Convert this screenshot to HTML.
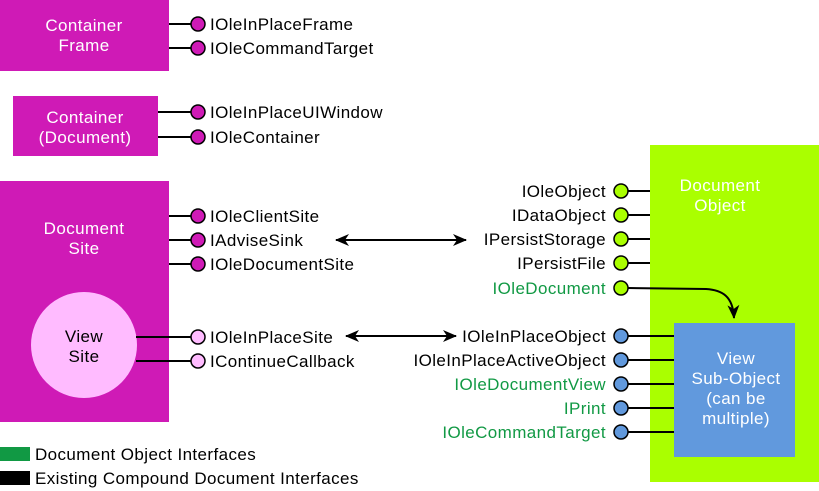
<!DOCTYPE html>
<html><head><meta charset="utf-8"><style>
body{margin:0;background:#fff}
svg{display:block}
text{font-family:"Liberation Sans",Arial,sans-serif;font-size:17px;letter-spacing:0.4px}
</style></head><body>
<svg width="819" height="491" viewBox="0 0 819 491" xmlns="http://www.w3.org/2000/svg">
<defs>
<marker id="ah" markerWidth="14" markerHeight="12" refX="13" refY="6" orient="auto" markerUnits="userSpaceOnUse"><path d="M0,0 L14,6 L0,12 L4,6 Z" fill="#000"/></marker>
<marker id="as" markerWidth="14" markerHeight="12" refX="1" refY="6" orient="auto" markerUnits="userSpaceOnUse"><path d="M14,0 L0,6 L14,12 L10,6 Z" fill="#000"/></marker>
</defs>
<rect x="0" y="0" width="169" height="71" fill="#cf1ab6"/>
<text x="84" y="31" fill="#fff" text-anchor="middle">Container</text>
<text x="84" y="51" fill="#fff" text-anchor="middle">Frame</text>
<rect x="13" y="96" width="145" height="60" fill="#cf1ab6"/>
<text x="85" y="123" fill="#fff" text-anchor="middle">Container</text>
<text x="85" y="143" fill="#fff" text-anchor="middle">(Document)</text>
<rect x="0" y="181" width="169" height="241" fill="#cf1ab6"/>
<text x="84" y="234" fill="#fff" text-anchor="middle">Document</text>
<text x="84" y="254" fill="#fff" text-anchor="middle">Site</text>
<circle cx="84" cy="345" r="53" fill="#ffbbff"/>
<text x="84" y="342" fill="#000" text-anchor="middle">View</text>
<text x="84" y="362" fill="#000" text-anchor="middle">Site</text>
<g stroke="#000" stroke-width="2">
<line x1="169" y1="24" x2="191" y2="24"/><line x1="169" y1="48" x2="191" y2="48"/>
<line x1="158" y1="112" x2="191" y2="112"/><line x1="158" y1="137" x2="191" y2="137"/>
<line x1="169" y1="216" x2="191" y2="216"/><line x1="169" y1="240" x2="191" y2="240"/><line x1="169" y1="264" x2="191" y2="264"/>
<line x1="136" y1="337" x2="191" y2="337"/><line x1="136" y1="361" x2="191" y2="361"/>
</g>
<g stroke="#000" stroke-width="1.5" fill="#cf1ab6">
<circle cx="198" cy="24" r="7"/><circle cx="198" cy="48" r="7"/>
<circle cx="198" cy="112" r="7"/><circle cx="198" cy="137" r="7"/>
<circle cx="198" cy="216" r="7"/><circle cx="198" cy="240" r="7"/><circle cx="198" cy="264" r="7"/>
<circle cx="198" cy="337" r="7" fill="#ffbbff"/><circle cx="198" cy="361" r="7" fill="#ffbbff"/>
</g>
<g fill="#000">
<text x="210" y="30">IOleInPlaceFrame</text>
<text x="210" y="54">IOleCommandTarget</text>
<text x="210" y="118">IOleInPlaceUIWindow</text>
<text x="210" y="143">IOleContainer</text>
<text x="210" y="222">IOleClientSite</text>
<text x="210" y="246">IAdviseSink</text>
<text x="210" y="270">IOleDocumentSite</text>
<text x="210" y="343">IOleInPlaceSite</text>
<text x="210" y="367">IContinueCallback</text>
</g>
<line x1="336" y1="240" x2="466" y2="240" stroke="#000" stroke-width="2" marker-start="url(#as)" marker-end="url(#ah)"/>
<line x1="346" y1="336" x2="456" y2="336" stroke="#000" stroke-width="2" marker-start="url(#as)" marker-end="url(#ah)"/>
<rect x="650" y="145" width="169" height="337" fill="#aaff00"/>
<text x="720" y="191" fill="#fff" text-anchor="middle">Document</text>
<text x="720" y="211" fill="#fff" text-anchor="middle">Object</text>
<rect x="674" y="323" width="121" height="134" fill="#6199dd"/>
<text x="736" y="364" fill="#fff" text-anchor="middle">View</text>
<text x="736" y="384" fill="#fff" text-anchor="middle">Sub-Object</text>
<text x="736" y="404" fill="#fff" text-anchor="middle">(can be</text>
<text x="736" y="424" fill="#fff" text-anchor="middle">multiple)</text>
<g stroke="#000" stroke-width="2" fill="none">
<line x1="628" y1="191" x2="650" y2="191"/><line x1="628" y1="215" x2="650" y2="215"/><line x1="628" y1="239" x2="650" y2="239"/><line x1="628" y1="263" x2="650" y2="263"/>
<path d="M628,288 L706,289 C722,290 733,296 734,318" marker-end="url(#ah)"/>
<line x1="628" y1="336" x2="674" y2="336"/><line x1="628" y1="360" x2="674" y2="360"/><line x1="628" y1="384" x2="674" y2="384"/><line x1="628" y1="408" x2="674" y2="408"/><line x1="628" y1="432" x2="674" y2="432"/>
</g>
<g stroke="#000" stroke-width="1.5" fill="#aaff00">
<circle cx="621" cy="191" r="7"/><circle cx="621" cy="215" r="7"/><circle cx="621" cy="239" r="7"/><circle cx="621" cy="263" r="7"/><circle cx="621" cy="288" r="7"/>
<g fill="#6199dd"><circle cx="621" cy="336" r="7"/><circle cx="621" cy="360" r="7"/><circle cx="621" cy="384" r="7"/><circle cx="621" cy="408" r="7"/><circle cx="621" cy="432" r="7"/></g>
</g>
<g text-anchor="end" fill="#000">
<text x="606" y="197">IOleObject</text>
<text x="606" y="221">IDataObject</text>
<text x="606" y="245">IPersistStorage</text>
<text x="606" y="269">IPersistFile</text>
<text x="606" y="294" fill="#119944">IOleDocument</text>
<text x="606" y="342">IOleInPlaceObject</text>
<text x="606" y="366">IOleInPlaceActiveObject</text>
<text x="606" y="390" fill="#119944">IOleDocumentView</text>
<text x="606" y="414" fill="#119944">IPrint</text>
<text x="606" y="438" fill="#119944">IOleCommandTarget</text>
</g>
<rect x="0" y="447" width="30" height="14" fill="#119944"/>
<text x="35" y="460" fill="#000">Document Object Interfaces</text>
<rect x="0" y="471" width="30" height="14" fill="#000"/>
<text x="35" y="484" fill="#000">Existing Compound Document Interfaces</text>
</svg>
</body></html>
